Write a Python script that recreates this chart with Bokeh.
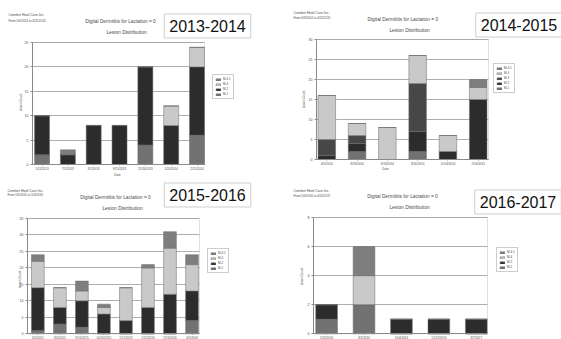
import math
from bokeh.plotting import figure
from bokeh.models import (ColumnDataSource, Range1d, Label, Legend, LegendItem,
                          SingleIntervalTicker, FixedTicker, BoxAnnotation)
from bokeh.layouts import gridplot
from bokeh.embed import file_html
from bokeh.resources import INLINE

# ---------------- data ----------------
company = "Comfort Hoof Care Inc."
report_title = "Digital Dermititis for Lactation = 0"
subtitle = "Lesion Distribution"
y_label = "Lesion Count"
x_label = "Date"

series_colors = {"M-1": "#727272", "M-2": "#2c2c2c", "M-3": "#474747",
                 "M-4": "#c9c9c9", "M-4.1": "#7e7e7e"}

season_1314 = "2013-2014"
period_1314 = "From 5/6/2013 to 4/25/2014"
dates_1314 = ["5/11/2013", "7/1/2013", "8/1/2013", "9/25/2013", "11/26/2013", "1/20/2014", "2/21/2014"]
m1_1314 = [2, 0, 0, 0, 4, 0, 6]
m2_1314 = [8, 2, 8, 8, 16, 8, 14]
m4_1314 = [0, 0, 0, 0, 0, 4, 4]
m41_1314 = [0, 1, 0, 0, 0, 0, 0]

season_1415 = "2014-2015"
period_1415 = "From 6/3/2014 to 4/22/2015"
dates_1415 = ["6/5/2014", "8/19/2014", "9/13/2014", "9/16/2014", "11/24/2014", "2/16/2015"]
m1_1415 = [0, 2, 0, 2, 0, 0]
m2_1415 = [1, 2, 0, 5, 2, 15]
m3_1415 = [4, 2, 0, 12, 0, 0]
m4_1415 = [11, 3, 8, 7, 4, 3]
m41_1415 = [0, 0, 0, 0, 0, 2]

season_1516 = "2015-2016"
period_1516 = "From 5/6/2015 to 5/4/2016"
dates_1516 = ["6/2/2015", "8/4/2015", "9/15/2015", "10/20/2015", "12/1/2015", "1/12/2016", "2/23/2016", "4/5/2016"]
m1_1516 = [1, 3, 2, 0, 0, 0, 0, 4]
m2_1516 = [13, 5, 8, 6, 4, 8, 12, 9]
m4_1516 = [8, 6, 3, 2, 10, 12, 14, 8]
m41_1516 = [2, 0, 3, 1, 0, 1, 5, 3]

season_1617 = "2016-2017"
period_1617 = "From 5/4/2016 to 4/20/2017"
dates_1617 = ["5/24/2016", "8/2/2016", "10/4/2016", "12/13/2016", "3/7/2017"]
m1_1617 = [1, 2, 0, 0, 0]
m2_1617 = [1, 0, 1, 1, 1]
m4_1617 = [0, 2, 0, 0, 0]
m41_1617 = [0, 2, 0, 0, 0]

FONT = "Liberation Sans"
TXT = "#4a4a4a"
AXC = "#8a8a8a"


def make_panel(dates, stacks, ymax, yint, xr, w, h, area, hdr, period, season,
               box_c, legend_tl, ylab_pos):
    """area = (L, R, T, B) pixel box of the bar area inside a w x h canvas."""
    L, R, T, B = area
    xs, xe = xr
    sx_ = (xe - xs) / (R - L)
    sy_ = ymax / (B - T)
    x_range = Range1d(xs - L * sx_, xe + (w - R) * sx_)
    y_range = Range1d(-(h - B) * sy_, ymax + T * sy_)

    names = list(stacks.keys())
    data = {"x": list(range(len(dates)))}
    data.update(stacks)
    src = ColumnDataSource(data)
    p = figure(width=w, height=h, x_range=x_range, y_range=y_range,
               output_backend="svg", toolbar_location=None,
               min_border_left=0, min_border_right=0, min_border_top=0,
               min_border_bottom=0, background_fill_color="white",
               border_fill_color="white", outline_line_color=None)

    p.add_layout(BoxAnnotation(left=xs, right=xe, bottom=0, top=ymax,
                               fill_alpha=0, line_color="#9a9a9a", line_width=1,
                               level="underlay"))

    rs = p.vbar_stack(names, x="x", width=0.58, source=src,
                      color=[series_colors[n] for n in names],
                      line_color="#6a6a6a", line_width=0.5)
    items = [LegendItem(label=n, renderers=[r]) for n, r in zip(names, rs)][::-1]
    leg = Legend(items=items, location=(legend_tl[0], h - legend_tl[1]),
                 label_text_font_size="3px",
                 label_text_font=FONT, label_text_color=TXT,
                 glyph_width=6, glyph_height=3, label_height=3, label_width=0,
                 spacing=1, padding=2, margin=0, label_standoff=2,
                 border_line_color="#9a9a9a", border_line_width=0.8,
                 background_fill_color="white", background_fill_alpha=1)
    p.add_layout(leg)

    p.xgrid.visible = False
    p.ygrid.grid_line_color = "#9a9a9a"
    p.ygrid.grid_line_width = 0.8
    p.ygrid.cross_bounds = (xs, xe)

    xa = p.xaxis[0]
    ya = p.yaxis[0]
    xa.fixed_location = 0
    ya.fixed_location = xs
    xa.bounds = (xs, xe)
    ya.bounds = (0, ymax)
    xa.ticker = FixedTicker(ticks=list(range(len(dates))))
    xa.major_label_overrides = {i: d for i, d in enumerate(dates)}
    xa.major_label_text_font_size = "3px"
    xa.major_label_standoff = 1
    xa.major_tick_out = 1
    xa.major_tick_in = 0
    ya.ticker = SingleIntervalTicker(interval=yint, num_minor_ticks=0)
    ya.major_label_text_font_size = "3.5px"
    ya.major_label_standoff = 2
    ya.major_tick_out = 2
    ya.major_tick_in = 0
    for ax in (xa, ya):
        ax.minor_tick_line_color = None
        ax.axis_line_color = AXC
        ax.major_tick_line_color = AXC
        ax.major_label_text_font = FONT
        ax.major_label_text_color = TXT

    def lab(x, y, text, size, align="left", color=TXT, angle=0.0, **kw):
        p.add_layout(Label(x=x, y=h - y, x_units="screen", y_units="screen", text=text,
                           text_font=FONT, text_font_size=size, text_color=color,
                           text_align=align, text_baseline="middle", angle=angle, **kw))

    (cx, cy), (px_, py_), (dx, dy), (lx, ly) = hdr
    lab(cx, cy, company, "3.5px")
    lab(px_, py_, period, "3px")
    lab(dx, dy, report_title, "4.8px", "center")
    lab(lx, ly, subtitle, "4.9px", "center")
    lab(ylab_pos[0], ylab_pos[1], y_label, "3px", "center", angle=math.pi / 2)
    lab(box_c[0], box_c[1], season, "16px", "center", color="#111111",
        background_fill_color="white", border_line_color="#cfcfcf",
        border_line_width=1, padding=(5, 6))
    return p, lab


pA, labA = make_panel(dates_1314, {"M-1": m1_1314, "M-2": m2_1314, "M-4": m4_1314, "M-4.1": m41_1314},
                      25, 5, (-0.37, 6.29), 280, 170, (32, 204, 42, 164),
                      ((8, 14), (8, 20.3), (120, 21), (126, 32.3)),
                      period_1314, season_1314, (207, 25.5), (212, 99), (20.5, 102))
pB, labB = make_panel(dates_1415, {"M-1": m1_1415, "M-2": m2_1415, "M-3": m3_1415, "M-4": m4_1415, "M-4.1": m41_1415},
                      30, 5, (-0.34, 5.34), 281, 170, (36, 208, 39, 159),
                      ((13, 12.3), (13, 17.3), (122.3, 19), (129, 29.7)),
                      period_1415, season_1415, (238.5, 24.5), (213, 93), (23.3, 99))
labB(105, 168, x_label, "3px", "center")
pC, labC = make_panel(dates_1516, {"M-1": m1_1516, "M-2": m2_1516, "M-4": m4_1516, "M-4.1": m41_1516},
                      35, 5, (-0.47, 7.34), 280, 169, (27, 199, 48, 163.3),
                      ((7, 20.7), (7, 24.7), (115, 27.3), (122, 37.7)),
                      period_1516, season_1516, (207, 24.5), (207, 103), (19, 109))
labC(117, 4, x_label, "3px", "center")
pD, labD = make_panel(dates_1617, {"M-1": m1_1617, "M-2": m2_1617, "M-4": m4_1617, "M-4.1": m41_1617},
                      8, 2, (-0.35, 4.30), 281, 169, (33, 207, 47, 163.3),
                      ((13, 20.7), (13, 25), (122, 26), (129, 36.7)),
                      period_1617, season_1617, (237.5, 31.5), (216, 102), (21, 106))

grid = gridplot([[pA, pB], [pC, pD]], toolbar_location=None)

open("out.html", "w").write(file_html(grid, INLINE))
